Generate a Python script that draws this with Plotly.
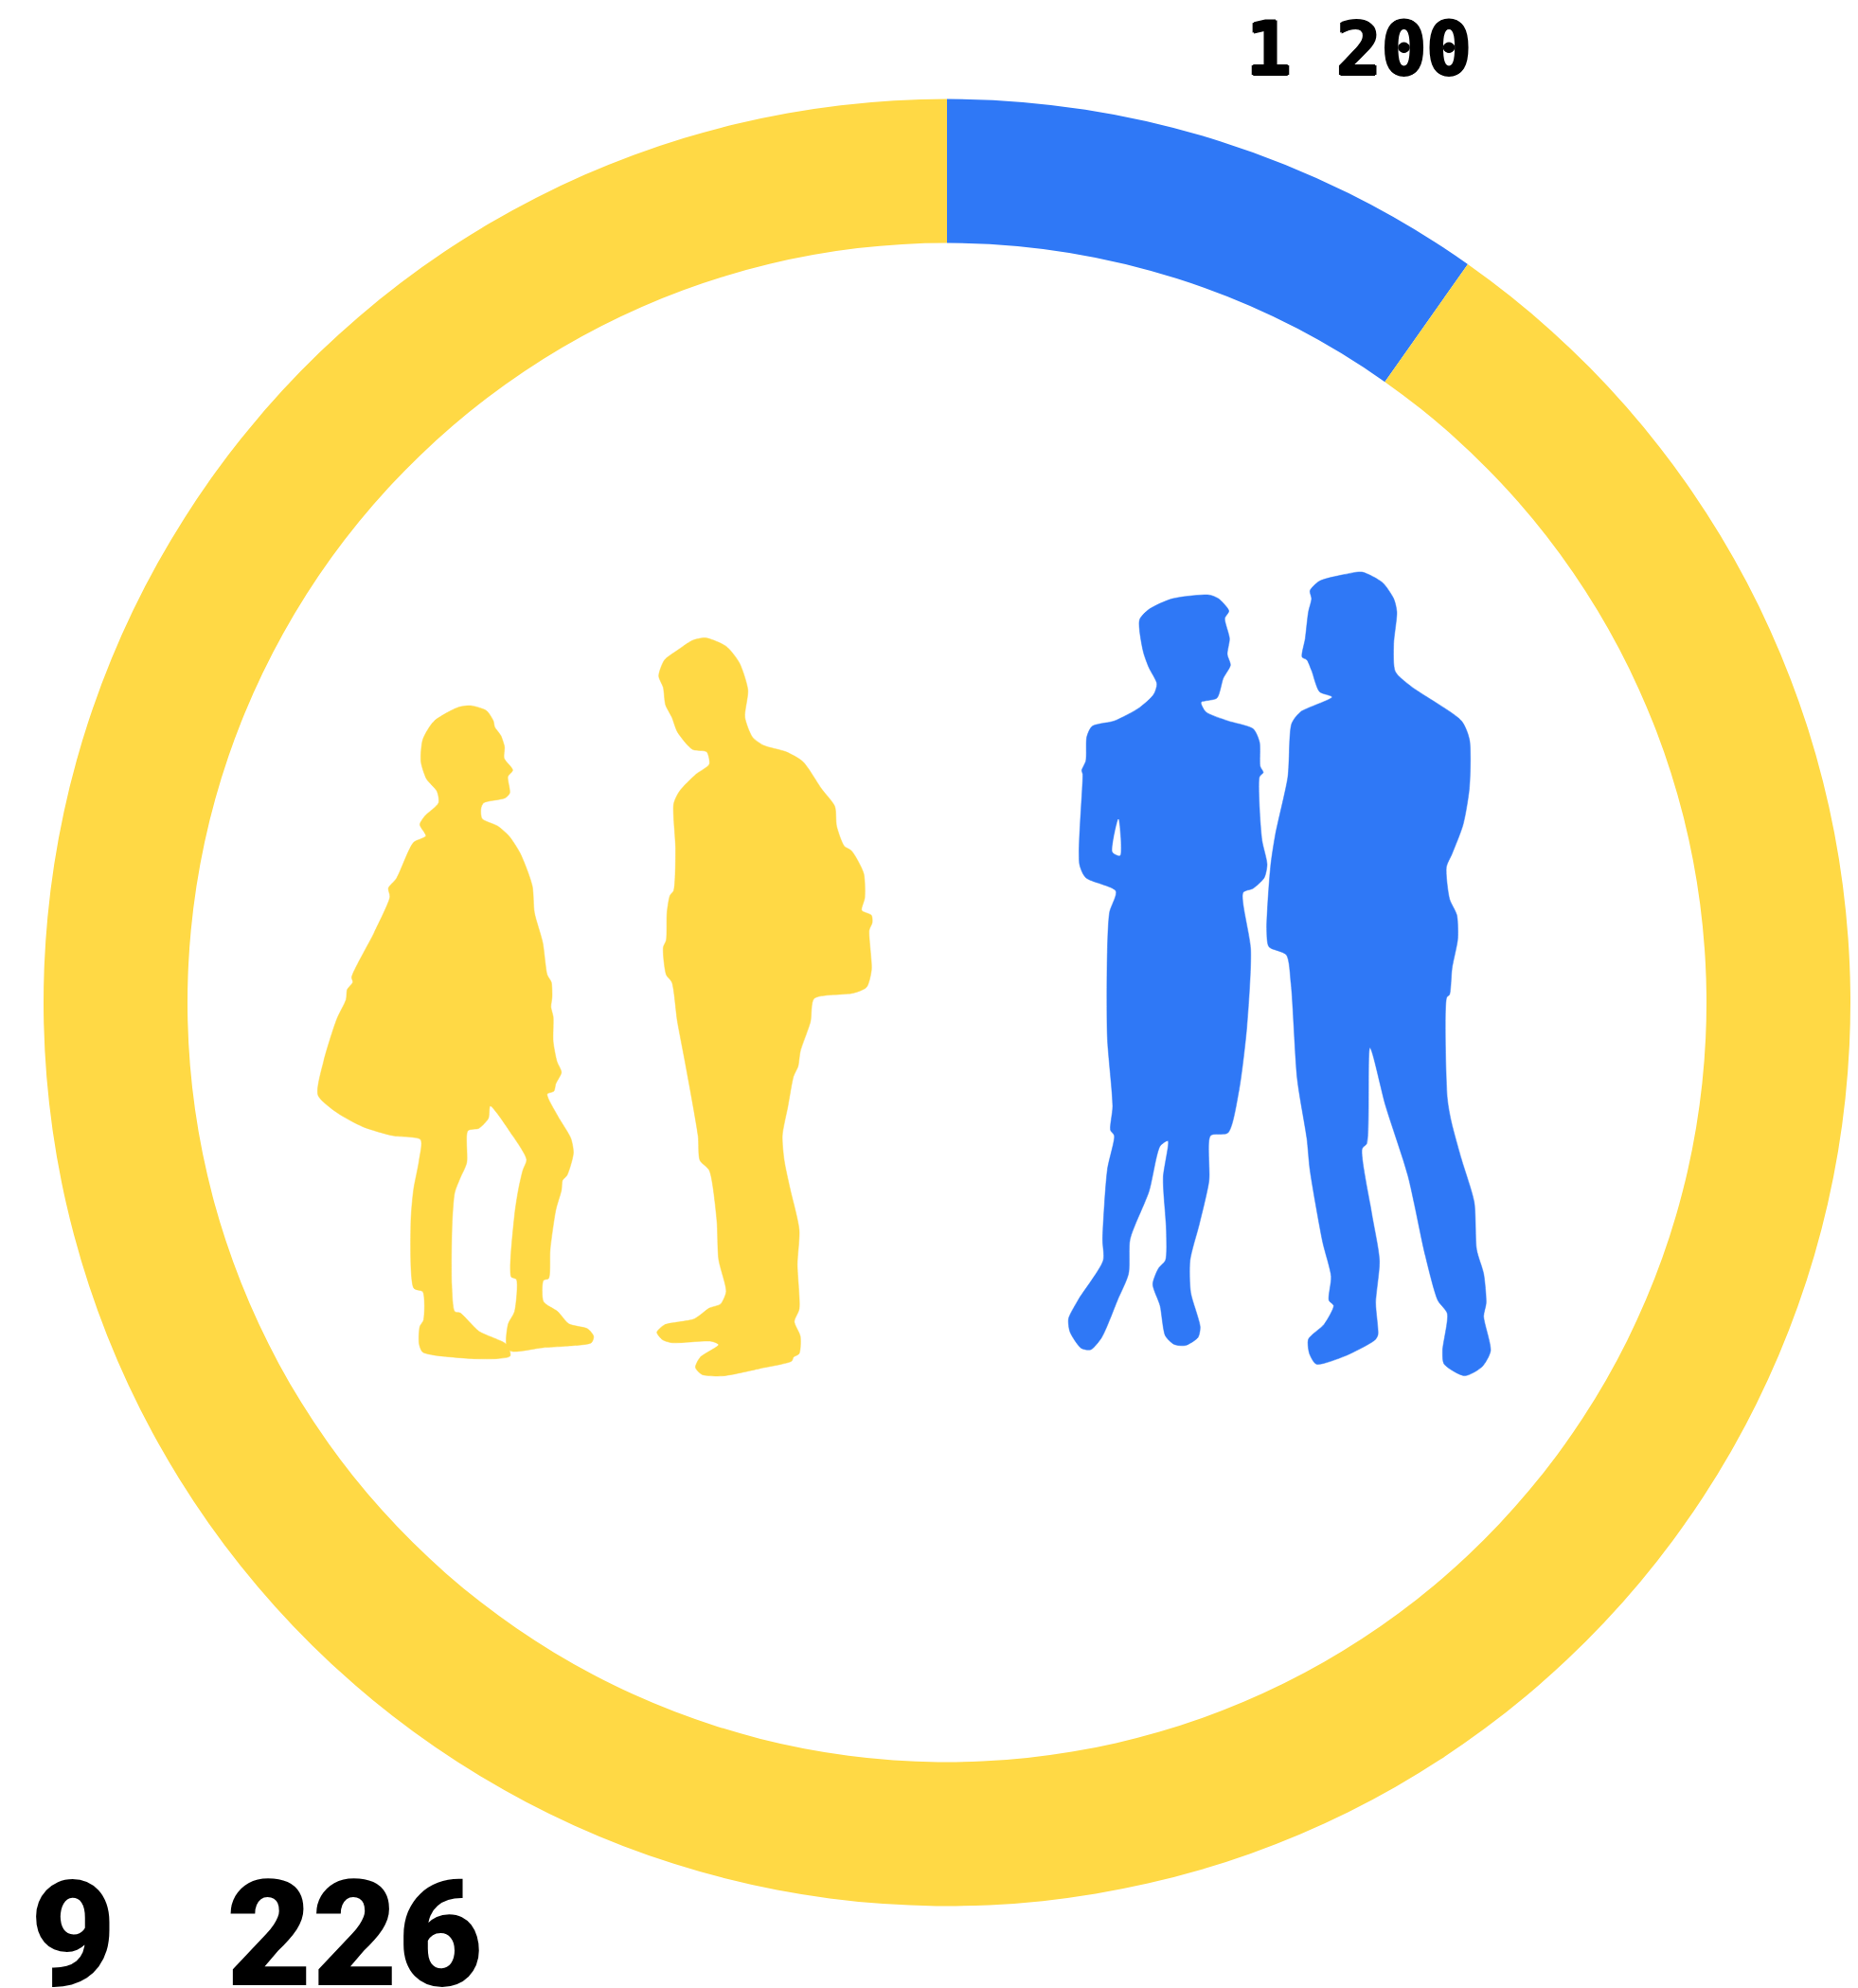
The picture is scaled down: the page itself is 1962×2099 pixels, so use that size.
import plotly.graph_objects as go

W, H = 1962, 2099
YELLOW = "#FFD945"
BLUE = "#2F78F6"

# ring slices: the drawn split (blue spans about 35 degrees) and the printed labels
slice_names = ["blue", "yellow"]
slice_values = [1000, 9226]
label_blue = "<b>1\u00a0200</b>"
label_yellow = "9\u00a0\u00a0\u00a0226"

woman_yellow = [(450,182),(490,192),(508,212),(512,225),(528,242),(538,265),(537,288),(560,312),(547,325),(552,358),(540,368),(482,378),(475,390),(478,410),(520,425),(550,445),(580,480),(612,545),(618,600),(640,660),(652,725),(663,740),(665,770),(662,790),(668,810),(668,860),(678,900),(690,922),(675,945),(670,960),(652,966),(680,1010),(715,1055),(722,1085),(705,1130),(693,1140),(690,1160),(675,1200),(660,1280),(656,1338),(642,1342),(642,1385),(680,1405),(710,1430),(760,1440),(776,1455),(770,1468),(700,1475),(640,1478),(555,1485),(543,1470),(548,1430),(565,1405),(570,1340),(556,1335),(565,1210),(575,1160),(587,1120),(597,1098),(560,1050),(500,990),(495,1015),(470,1035),(440,1040),(437,1105),(420,1135),(405,1165),(398,1230),(397,1350),(405,1405),(420,1408),(470,1445),(545,1472),(553,1495),(520,1500),(450,1500),(320,1487),(310,1470),(312,1435),(322,1422),(320,1365),(296,1358),(288,1225),(295,1160),(310,1100),(314,1058),(240,1050),(160,1032),(90,1003),(40,968),(55,900),(90,815),(115,775),(118,755),(133,740),(130,730),(190,640),(232,568),(228,550),(250,530),(295,458),(328,445),(312,422),(325,405),(362,378),(358,355),(330,330),(315,295),(320,250),(350,213),(415,185)]
man_yellow = [(1075,45),(1130,62),(1165,95),(1188,150),(1180,205),(1200,245),(1230,262),(1290,275),(1335,295),(1385,350),(1420,385),(1425,425),(1445,465),(1465,475),(1497,520),(1500,570),(1492,595),(1518,605),(1520,620),(1512,635),(1518,715),(1505,750),(1470,762),(1365,773),(1355,820),(1328,880),(1322,910),(1310,930),(1295,990),(1280,1050),(1285,1100),(1300,1155),(1325,1240),(1320,1310),(1325,1400),(1312,1425),(1328,1455),(1325,1490),(1310,1497),(1305,1505),(1220,1520),(1120,1535),(1065,1532),(1048,1518),(1060,1498),(1110,1472),(1090,1465),(985,1468),(960,1462),(945,1447),(965,1432),(1045,1420),(1085,1398),(1115,1390),(1130,1365),(1110,1300),(1105,1220),(1085,1120),(1060,1100),(1055,1050),(1020,900),(1000,820),(985,740),(970,725),(962,670),(970,655),(972,600),(980,565),(990,555),(995,470),(990,380),(1005,355),(1050,320),(1085,300),(1078,275),(1040,270),(1000,235),(985,205),(968,180),(962,145),(950,122),(965,90),(1000,70),(1040,50)]
woman_blue = [(385,75),(500,68),(530,75),(563,98),(550,112),(565,150),(558,180),(568,200),(545,225),(525,262),(475,270),(490,288),(560,305),(640,320),(660,345),(662,390),(672,402),(660,410),(660,470),(668,530),(684,575),(675,600),(640,620),(608,628),(632,735),(620,880),(595,1000),(560,1080),(505,1085),(500,1170),(470,1250),(440,1320),(442,1380),(472,1445),(465,1465),(425,1480),(390,1478),(362,1462),(345,1405),(322,1365),(340,1335),(362,1320),(365,1265),(355,1165),(370,1095),(345,1105),(310,1190),(250,1280),(245,1345),(210,1395),(160,1465),(125,1488),(95,1485),(60,1455),(55,1430),(85,1395),(165,1320),(163,1280),(178,1150),(200,1085),(188,1075),(195,1030),(178,900),(178,740),(185,665),(205,625),(110,600),(90,575),(100,405),(97,398),(110,380),(113,335),(130,315),(200,305),(280,280),(325,255),(335,235),(310,205),(292,175),(280,115),(310,95)]
woman_blue_gap = [(213,490),(218,558),(195,552)]
man_blue = [(925,30),(985,25),(1050,45),(1085,75),(1095,100),(1085,160),(1090,212),(1140,240),(1300,305),(1325,340),(1325,430),(1305,500),(1270,555),(1252,580),(1262,640),(1285,670),(1288,715),(1270,770),(1262,820),(1253,825),(1255,1015),(1268,1060),(1300,1130),(1340,1210),(1348,1300),(1370,1345),(1378,1400),(1370,1425),(1392,1490),(1365,1520),(1310,1537),(1245,1515),(1240,1490),(1255,1420),(1225,1395),(1185,1310),(1130,1160),(1060,1030),(1010,920),(1000,1100),(985,1110),(1015,1230),(1040,1320),(1028,1400),(1035,1460),(1025,1470),(930,1500),(840,1515),(818,1495),(815,1468),(865,1440),(895,1405),(880,1395),(887,1350),(860,1285),(820,1150),(810,1090),(780,980),(760,800),(745,745),(690,730),(683,700),(695,580),(710,520),(750,410),(762,310),(790,288),(890,260),(850,250),(825,210),(810,190),(795,185),(805,150),(815,100),(825,75),(820,60),(850,42)]

# crop origin and x/y scale of each tracing
YELLOW_CROP = (320, 650, 1568 / 620, 1568 / 820)
BLUE_CROP = (1110, 590, 3.0, 1568 / 880)


def outline(points, crop, color):
    ox, oy, sx, sy = crop
    xs = [ox + p[0] / sx for p in points] + [ox + points[0][0] / sx]
    ys = [oy + p[1] / sy for p in points] + [oy + points[0][1] / sy]
    return go.Scatter(x=xs, y=ys, mode="lines", fill="toself", fillcolor=color,
                      line=dict(color=color, width=0.5, shape="spline", smoothing=0.7),
                      hoverinfo="skip", showlegend=False)


fig = go.Figure()
cx, cy, R = 1000, 1058.5, 954
fig.add_trace(go.Pie(
    labels=slice_names, values=slice_values, hole=802 / 954, sort=False,
    direction="clockwise", rotation=0, textinfo="none", hoverinfo="skip",
    marker=dict(colors=[BLUE, YELLOW], line=dict(width=0)), showlegend=False,
    domain=dict(x=[(cx - R) / W, (cx + R) / W], y=[1 - (cy + R) / H, 1 - (cy - R) / H]),
))
fig.add_trace(outline(woman_yellow, YELLOW_CROP, YELLOW))
fig.add_trace(outline(man_yellow, YELLOW_CROP, YELLOW))
fig.add_trace(outline(woman_blue, BLUE_CROP, BLUE))
fig.add_trace(outline(man_blue, BLUE_CROP, BLUE))
fig.add_trace(outline(woman_blue_gap, BLUE_CROP, "#FFFFFF"))

fig.add_annotation(x=1314, y=52, xref="x", yref="y", xanchor="left", yanchor="middle",
                   text=label_blue, showarrow=False,
                   font=dict(family="DejaVu Sans Mono", size=79, color="#000000",
                             shadow="1.5px 0 0 #000, -1.5px 0 0 #000, 0 1px 0 #000, 0 -1px 0 #000"))
fig.add_annotation(x=30, y=2042, xref="x", yref="y", xanchor="left", yanchor="middle",
                   text=label_yellow, showarrow=False,
                   font=dict(family="Roboto", size=156, color="#000000", weight=900))

fig.update_layout(
    width=W, height=H, margin=dict(l=0, r=0, t=0, b=0),
    paper_bgcolor="#FFFFFF", plot_bgcolor="rgba(0,0,0,0)",
    xaxis=dict(range=[0, W], visible=False, domain=[0, 1]),
    yaxis=dict(range=[H, 0], visible=False, domain=[0, 1]),
)
fig.write_html("out.html", config=dict(displayModeBar=False),
               post_script="document.body.style.margin='0';")
